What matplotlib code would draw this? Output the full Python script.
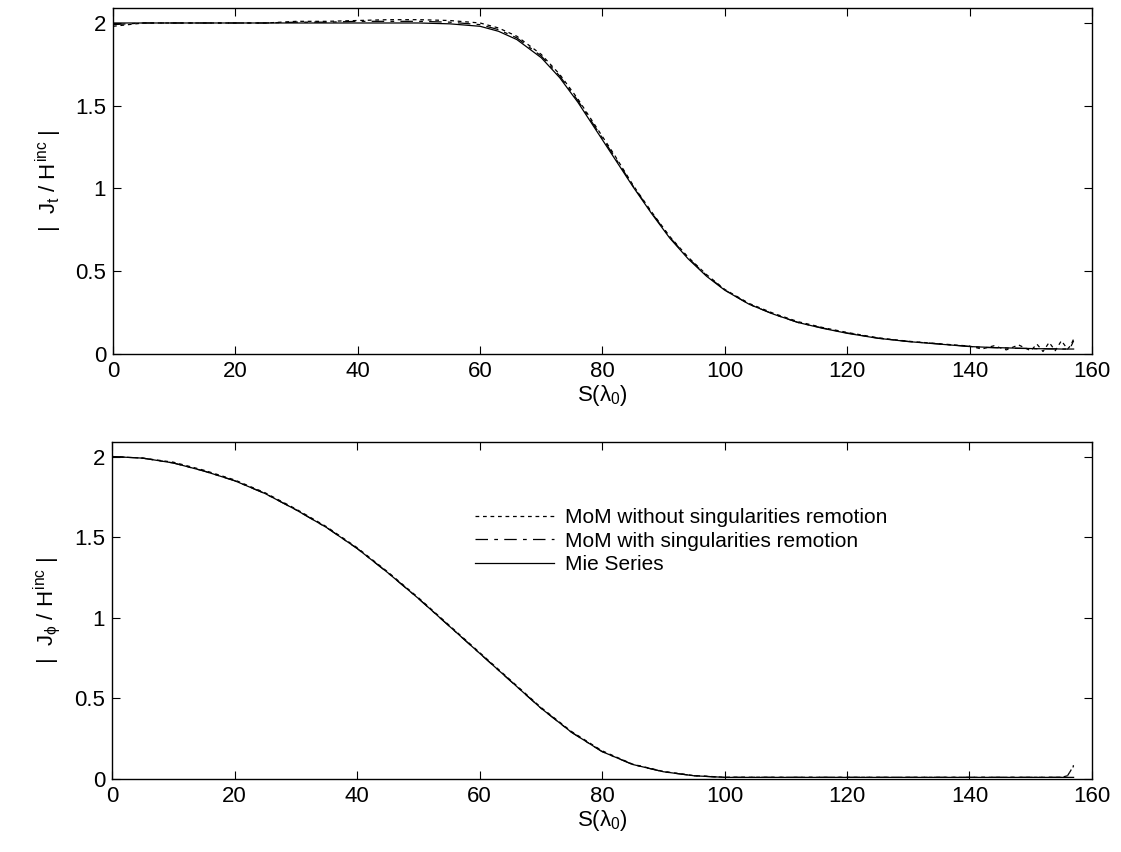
import matplotlib
matplotlib.use('Agg')
import numpy as np
import matplotlib.pyplot as plt

plt.rcParams['font.family'] = ['Liberation Sans', 'DejaVu Sans']
plt.rcParams['mathtext.fontset'] = 'custom'
plt.rcParams['mathtext.rm'] = 'Liberation Sans'
plt.rcParams['mathtext.it'] = 'Liberation Sans'
plt.rcParams['mathtext.bf'] = 'Liberation Sans:bold'

# -----------------------------
# Data
# -----------------------------
s_top = [0, 5, 10, 15, 20, 25, 30, 35, 40, 45, 50, 55, 60, 63, 66, 70, 73, 76,
         79, 82, 85, 88, 91, 94, 97, 100, 104, 108, 112, 116, 120, 125, 130,
         135, 140, 142, 144, 146, 148, 150, 151, 152, 153, 154, 155, 156, 156.5, 157]
mie_top = [2.00, 2.00, 2.00, 2.00, 2.00, 2.00, 2.00, 2.00, 2.00, 2.00, 2.00, 1.995,
           1.98, 1.95, 1.90, 1.79, 1.67, 1.52, 1.35, 1.18, 1.01, 0.85, 0.70, 0.575,
           0.47, 0.385, 0.30, 0.24, 0.19, 0.155, 0.125, 0.095, 0.075, 0.06, 0.045,
           0.042, 0.039, 0.037, 0.035, 0.033, 0.032, 0.032, 0.031, 0.031, 0.030,
           0.030, 0.030, 0.030]
mom_wo_top = [1.98, 2.00, 2.00, 2.00, 2.00, 2.00, 2.01, 2.01, 2.015, 2.02, 2.02, 2.015,
              2.00, 1.97, 1.92, 1.81, 1.69, 1.54, 1.37, 1.20, 1.02, 0.86, 0.71, 0.585,
              0.48, 0.39, 0.305, 0.245, 0.195, 0.16, 0.13, 0.098, 0.077, 0.062, 0.048,
              0.030, 0.050, 0.025, 0.055, 0.020, 0.060, 0.015, 0.070, 0.020, 0.080,
              0.030, 0.050, 0.090]
mom_w_top = [1.99, 2.00, 2.00, 2.00, 2.00, 2.00, 2.005, 2.005, 2.01, 2.01, 2.01, 2.005,
             1.99, 1.96, 1.91, 1.80, 1.68, 1.53, 1.36, 1.19, 1.015, 0.855, 0.705, 0.58,
             0.475, 0.387, 0.30, 0.24, 0.19, 0.157, 0.127, 0.096, 0.076, 0.061, 0.046,
             0.040, 0.038, 0.036, 0.034, 0.033, 0.032, 0.032, 0.031, 0.031, 0.030,
             0.030, 0.040, 0.080]

s_bot = [0, 5, 10, 15, 20, 25, 30, 35, 40, 45, 50, 55, 60, 65, 70, 75, 80, 85,
         90, 95, 100, 110, 120, 130, 140, 150, 155, 156, 156.5, 157]
mie_bot = [2.00, 1.99, 1.96, 1.91, 1.85, 1.77, 1.67, 1.56, 1.43, 1.28, 1.12, 0.95,
           0.78, 0.61, 0.44, 0.29, 0.17, 0.09, 0.045, 0.02, 0.01, 0.01, 0.01, 0.01,
           0.01, 0.01, 0.01, 0.01, 0.01, 0.01]
mom_wo_bot = [2.00, 1.99, 1.965, 1.915, 1.855, 1.775, 1.675, 1.565, 1.435, 1.285, 1.125,
              0.955, 0.785, 0.615, 0.445, 0.295, 0.175, 0.092, 0.047, 0.021, 0.011, 0.01,
              0.01, 0.01, 0.01, 0.01, 0.01, 0.02, 0.05, 0.085]
mom_w_bot = [2.00, 1.99, 1.96, 1.91, 1.85, 1.77, 1.67, 1.56, 1.43, 1.28, 1.12,
             0.95, 0.78, 0.61, 0.44, 0.29, 0.17, 0.09, 0.045, 0.02, 0.01, 0.01,
             0.01, 0.01, 0.01, 0.01, 0.01, 0.02, 0.05, 0.08]

labels = ['MoM without singularities remotion', 'MoM with singularities remotion', 'Mie Series']
xticks = [0, 20, 40, 60, 80, 100, 120, 140, 160]
yticks = [0, 0.5, 1, 1.5, 2]

FS = 16
DOT = (0, (3, 3))
DASHDOT = (0, (10, 5, 3, 5))


def style_axes(ax, ylabel):
    ax.set_xlim(0, 160)
    ax.set_ylim(0, 2.09)
    ax.set_xticks(xticks)
    ax.set_yticks(yticks)
    ax.set_yticklabels(['0', '0.5', '1', '1.5', '2'])
    ax.tick_params(direction='in', top=True, right=True, labelsize=FS, length=6, width=0.8, pad=5)
    for sp in ax.spines.values():
        sp.set_linewidth(1.0)
    ax.set_xlabel(r'S($\lambda_0$)', fontsize=FS, labelpad=1)
    ax.set_ylabel(ylabel, fontsize=FS, labelpad=8)


fig = plt.figure(figsize=(11.21, 8.52), dpi=100)
ax0 = fig.add_axes([0.1008, 0.5845, 0.8733, 0.406])
ax1 = fig.add_axes([0.1000, 0.0857, 0.8741, 0.3955])

ax0.plot(s_top, mom_wo_top, color='k', lw=0.9, linestyle=DOT)
ax0.plot(s_top, mom_w_top, color='k', lw=0.9, linestyle=DASHDOT)
ax0.plot(s_top, mie_top, color='k', lw=0.9, linestyle='-')
style_axes(ax0, r'$|\ \ J_t\ /\ H^{inc}\ |$')

ax1.plot(s_bot, mom_wo_bot, color='k', lw=0.9, linestyle=DOT, label=labels[0])
ax1.plot(s_bot, mom_w_bot, color='k', lw=0.9, linestyle=DASHDOT, label=labels[1])
ax1.plot(s_bot, mie_bot, color='k', lw=0.9, linestyle='-', label=labels[2])
style_axes(ax1, r'$|\ \ J_\phi\ /\ H^{inc}\ |$')
ax1.legend(loc='upper left', bbox_to_anchor=(0.36, 0.835), frameon=False, fontsize=15,
           handlelength=3.8, handletextpad=0.5, labelspacing=0.22, borderpad=0)

plt.savefig('out.png', dpi=100)
plt.close()
